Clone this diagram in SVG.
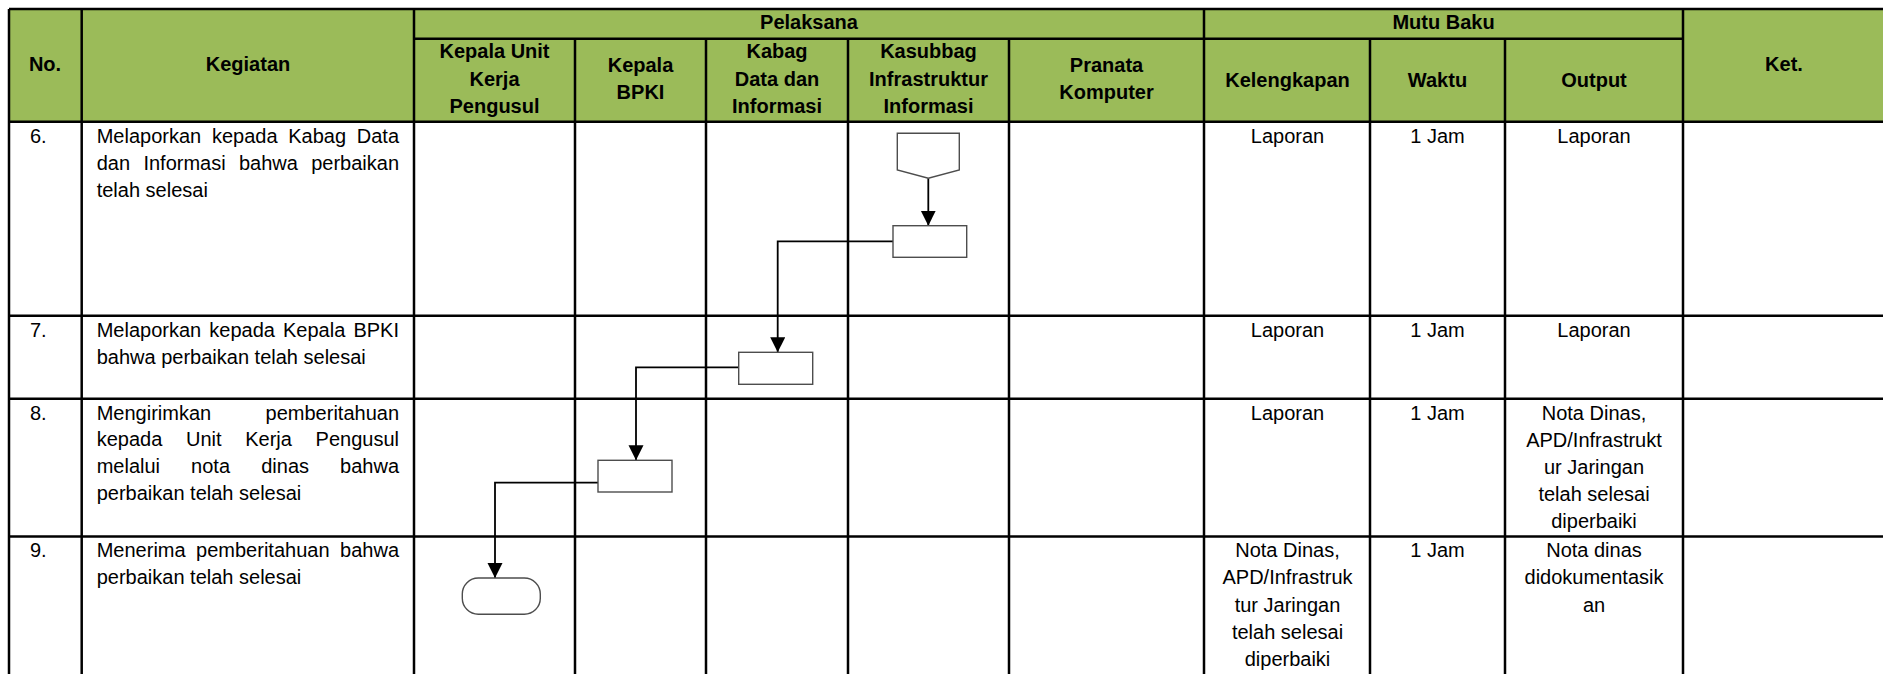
<svg xmlns="http://www.w3.org/2000/svg" width="1883" height="674" viewBox="0 0 1883 674">
<style>
  .grid { stroke: #000; stroke-width: 2.5; fill: none; }
  .hdr { font-family: "Liberation Sans", Arial, sans-serif; font-size: 20px; font-weight: bold; fill: #000; text-anchor: middle; }
  .txt { font-family: "Liberation Sans", Arial, sans-serif; font-size: 20px; fill: #000; }
  .c { text-anchor: middle; }
  .shape { fill: #fff; stroke: #4d4d4d; stroke-width: 1.4; }
  .conn { fill: none; stroke: #000; stroke-width: 1.8; }
</style>
<defs>
  <marker id="arrow" markerUnits="userSpaceOnUse" markerWidth="16" markerHeight="16" refX="15" refY="7.5" orient="auto">
    <path d="M0,0 L15,7.5 L0,15 z" fill="#000"/>
  </marker>
</defs>
<rect x="0" y="0" width="1883" height="674" fill="#fff"/>

<g id="header-bg">
  <rect x="9" y="9" width="1876" height="112.7" fill="#9BBB59"/>
</g>

<g id="grid">
  <!-- horizontal -->
  <line class="grid" x1="9" y1="9" x2="1885" y2="9"/>
  <line class="grid" x1="414" y1="38.7" x2="1683" y2="38.7"/>
  <line class="grid" x1="9" y1="121.7" x2="1885" y2="121.7"/>
  <line class="grid" x1="9" y1="315.7" x2="1885" y2="315.7"/>
  <line class="grid" x1="9" y1="398.7" x2="1885" y2="398.7"/>
  <line class="grid" x1="9" y1="536.5" x2="1885" y2="536.5"/>
  <!-- vertical full height -->
  <line class="grid" x1="9" y1="9" x2="9" y2="674"/>
  <line class="grid" x1="81.7" y1="9" x2="81.7" y2="674"/>
  <line class="grid" x1="414" y1="9" x2="414" y2="674"/>
  <line class="grid" x1="1204" y1="9" x2="1204" y2="674"/>
  <line class="grid" x1="1683" y1="9" x2="1683" y2="674"/>
  <!-- vertical sub columns -->
  <line class="grid" x1="575" y1="38.7" x2="575" y2="674"/>
  <line class="grid" x1="706" y1="38.7" x2="706" y2="674"/>
  <line class="grid" x1="848" y1="38.7" x2="848" y2="674"/>
  <line class="grid" x1="1009" y1="38.7" x2="1009" y2="674"/>
  <line class="grid" x1="1370" y1="38.7" x2="1370" y2="674"/>
  <line class="grid" x1="1505" y1="38.7" x2="1505" y2="674"/>
</g>

<g id="header-text">
  <text class="hdr" x="809" y="29">Pelaksana</text>
  <text class="hdr" x="1443.5" y="29">Mutu Baku</text>
  <text class="hdr" x="45" y="71">No.</text>
  <text class="hdr" x="248" y="71">Kegiatan</text>
  <text class="hdr" x="1784" y="71">Ket.</text>
  <text class="hdr" x="494.5" y="58">Kepala Unit<tspan x="494.5" y="85.5">Kerja</tspan><tspan x="494.5" y="112.5">Pengusul</tspan></text>
  <text class="hdr" x="640.5" y="72">Kepala<tspan x="640.5" y="99">BPKI</tspan></text>
  <text class="hdr" x="777" y="58">Kabag<tspan x="777" y="85.5">Data dan</tspan><tspan x="777" y="112.5">Informasi</tspan></text>
  <text class="hdr" x="928.5" y="58">Kasubbag<tspan x="928.5" y="85.5">Infrastruktur</tspan><tspan x="928.5" y="112.5">Informasi</tspan></text>
  <text class="hdr" x="1106.5" y="72">Pranata<tspan x="1106.5" y="99">Komputer</tspan></text>
  <text class="hdr" x="1287.5" y="86.5">Kelengkapan</text>
  <text class="hdr" x="1437.5" y="86.5">Waktu</text>
  <text class="hdr" x="1594" y="86.5">Output</text>
</g>

<g id="row-6">
  <text class="txt" x="30" y="142.7">6.</text>
  <text class="txt" y="142.7"><tspan x="96.7">Melaporkan</tspan><tspan x="211.9">kepada</tspan><tspan x="288.2">Kabag</tspan><tspan x="356.8">Data</tspan></text>
  <text class="txt" y="170"><tspan x="96.7">dan</tspan><tspan x="143.4">Informasi</tspan><tspan x="238.9">bahwa</tspan><tspan x="311.2">perbaikan</tspan></text>
  <text class="txt" x="96.7" y="197.3">telah selesai</text>
  <text class="txt c" x="1287.5" y="142.7">Laporan</text>
  <text class="txt c" x="1437.5" y="142.7">1 Jam</text>
  <text class="txt c" x="1594" y="142.7">Laporan</text>
</g>

<g id="row-7">
  <text class="txt" x="30" y="336.7">7.</text>
  <text class="txt" y="336.7"><tspan x="96.7">Melaporkan</tspan><tspan x="209.3">kepada</tspan><tspan x="283">Kepala</tspan><tspan x="353.4">BPKI</tspan></text>
  <text class="txt" x="96.7" y="363.5">bahwa perbaikan telah selesai</text>
  <text class="txt c" x="1287.5" y="336.7">Laporan</text>
  <text class="txt c" x="1437.5" y="336.7">1 Jam</text>
  <text class="txt c" x="1594" y="336.7">Laporan</text>
</g>

<g id="row-8">
  <text class="txt" x="30" y="419.5">8.</text>
  <text class="txt" y="419.5"><tspan x="96.7">Mengirimkan</tspan><tspan x="265.6">pemberitahuan</tspan></text>
  <text class="txt" y="446.3"><tspan x="96.7">kepada</tspan><tspan x="186">Unit</tspan><tspan x="245.2">Kerja</tspan><tspan x="315.6">Pengusul</tspan></text>
  <text class="txt" y="473.1"><tspan x="96.7">melalui</tspan><tspan x="191.1">nota</tspan><tspan x="261.2">dinas</tspan><tspan x="340.1">bahwa</tspan></text>
  <text class="txt" x="96.7" y="499.9">perbaikan telah selesai</text>
  <text class="txt c" x="1287.5" y="419.5">Laporan</text>
  <text class="txt c" x="1437.5" y="419.5">1 Jam</text>
  <text class="txt c" x="1594" y="419.5">Nota Dinas,<tspan x="1594" y="446.5">APD/Infrastrukt</tspan><tspan x="1594" y="473.5">ur Jaringan</tspan><tspan x="1594" y="500.5">telah selesai</tspan><tspan x="1594" y="527.5">diperbaiki</tspan></text>
</g>

<g id="row-9">
  <text class="txt" x="30" y="557">9.</text>
  <text class="txt" y="557"><tspan x="96.7">Menerima</tspan><tspan x="196.1">pemberitahuan</tspan><tspan x="340.1">bahwa</tspan></text>
  <text class="txt" x="96.7" y="584">perbaikan telah selesai</text>
  <text class="txt c" x="1287.5" y="557">Nota Dinas,<tspan x="1287.5" y="584.3">APD/Infrastruk</tspan><tspan x="1287.5" y="611.6">tur Jaringan</tspan><tspan x="1287.5" y="638.9">telah selesai</tspan><tspan x="1287.5" y="666.2">diperbaiki</tspan></text>
  <text class="txt c" x="1437.5" y="557">1 Jam</text>
  <text class="txt c" x="1594" y="557">Nota dinas<tspan x="1594" y="584.3">didokumentasik</tspan><tspan x="1594" y="611.6">an</tspan></text>
</g>

<g id="connectors">
  <path class="conn" d="M928.3,178.3 V225.7" marker-end="url(#arrow)"/>
  <path class="conn" d="M893,241.3 H777.7 V352.3" marker-end="url(#arrow)"/>
  <path class="conn" d="M738.7,367.3 H636 V460.3" marker-end="url(#arrow)"/>
  <path class="conn" d="M598,482.7 H495 V578" marker-end="url(#arrow)"/>
</g>

<g id="node-offpage">
  <polygon class="shape" points="897.3,133.3 959.3,133.3 959.3,170 928.3,178.3 897.3,170"/>
</g>
<g id="node-proc-kasubbag">
  <rect class="shape" x="893" y="225.7" width="73.7" height="31.6"/>
</g>
<g id="node-proc-kabag">
  <rect class="shape" x="738.7" y="352.3" width="74" height="32"/>
</g>
<g id="node-proc-bpki">
  <rect class="shape" x="598" y="460.3" width="74" height="31.7"/>
</g>
<g id="node-terminator">
  <rect class="shape" x="462.3" y="578" width="78" height="36.3" rx="16" ry="16"/>
</g>
</svg>
